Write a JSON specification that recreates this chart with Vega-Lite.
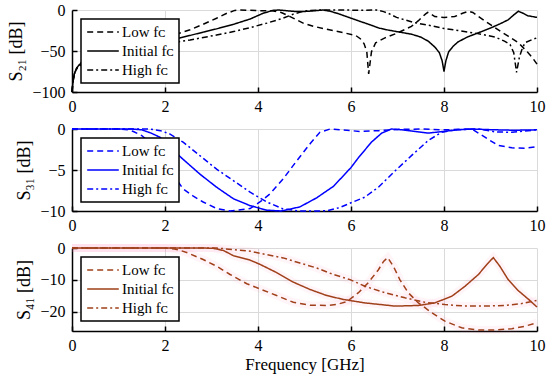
{
"$schema": "https://vega.github.io/schema/vega-lite/v6.json",
"padding": {"left": 7, "top": 2, "right": 5, "bottom": 5},
"bounds": "flush",
"datasets": {
"s21": [
{"s":"Initial","f":0,"db":-100},{"s":"Initial","f":0.02,"db":-88},{"s":"Initial","f":0.05,"db":-78},{"s":"Initial","f":0.1,"db":-71},{"s":"Initial","f":0.15,"db":-67},{"s":"Initial","f":0.2,"db":-65},{"s":"Initial","f":0.3,"db":-63},{"s":"Initial","f":0.5,"db":-59},{"s":"Initial","f":0.8,"db":-54},{"s":"Initial","f":1.0,"db":-50},{"s":"Initial","f":1.3,"db":-46},{"s":"Initial","f":1.6,"db":-42},{"s":"Initial","f":2.0,"db":-38},{"s":"Initial","f":2.25,"db":-35},{"s":"Initial","f":2.54,"db":-31},{"s":"Initial","f":2.82,"db":-27},{"s":"Initial","f":3.11,"db":-23},{"s":"Initial","f":3.47,"db":-17.5},{"s":"Initial","f":3.83,"db":-11},{"s":"Initial","f":4.11,"db":-4},{"s":"Initial","f":4.32,"db":-0.5},{"s":"Initial","f":4.45,"db":0},{"s":"Initial","f":4.6,"db":-0.8},{"s":"Initial","f":4.8,"db":-1.8},{"s":"Initial","f":5.0,"db":-1.8},{"s":"Initial","f":5.2,"db":-1},{"s":"Initial","f":5.4,"db":0},{"s":"Initial","f":5.55,"db":-1.5},{"s":"Initial","f":5.7,"db":-4},{"s":"Initial","f":5.85,"db":-7},{"s":"Initial","f":6.0,"db":-10},{"s":"Initial","f":6.2,"db":-14},{"s":"Initial","f":6.41,"db":-18},{"s":"Initial","f":6.6,"db":-22},{"s":"Initial","f":6.8,"db":-24.5},{"s":"Initial","f":7.0,"db":-26.5},{"s":"Initial","f":7.3,"db":-29.5},{"s":"Initial","f":7.5,"db":-33},{"s":"Initial","f":7.66,"db":-38},{"s":"Initial","f":7.8,"db":-45},{"s":"Initial","f":7.9,"db":-52},{"s":"Initial","f":7.96,"db":-62},{"s":"Initial","f":8.0,"db":-75},{"s":"Initial","f":8.04,"db":-62},{"s":"Initial","f":8.1,"db":-51},{"s":"Initial","f":8.2,"db":-44},{"s":"Initial","f":8.3,"db":-39},{"s":"Initial","f":8.5,"db":-33},{"s":"Initial","f":8.73,"db":-28},{"s":"Initial","f":9.0,"db":-22},{"s":"Initial","f":9.2,"db":-17},{"s":"Initial","f":9.38,"db":-12},{"s":"Initial","f":9.5,"db":-6},{"s":"Initial","f":9.6,"db":-1.5},{"s":"Initial","f":9.7,"db":-4},{"s":"Initial","f":9.8,"db":-7},{"s":"Initial","f":10,"db":-9},
{"s":"Low","f":0,"db":-100},{"s":"Low","f":0.02,"db":-88},{"s":"Low","f":0.05,"db":-78},{"s":"Low","f":0.1,"db":-71},{"s":"Low","f":0.2,"db":-64},{"s":"Low","f":0.5,"db":-56},{"s":"Low","f":1.0,"db":-46},{"s":"Low","f":1.5,"db":-38},{"s":"Low","f":2.0,"db":-32},{"s":"Low","f":2.24,"db":-29.5},{"s":"Low","f":2.54,"db":-24},{"s":"Low","f":2.82,"db":-17.5},{"s":"Low","f":3.11,"db":-10},{"s":"Low","f":3.33,"db":-4},{"s":"Low","f":3.5,"db":-0.5},{"s":"Low","f":3.6,"db":0},{"s":"Low","f":3.8,"db":-0.3},{"s":"Low","f":4.0,"db":-0.8},{"s":"Low","f":4.3,"db":-1},{"s":"Low","f":4.5,"db":-3},{"s":"Low","f":4.69,"db":-8},{"s":"Low","f":4.97,"db":-16},{"s":"Low","f":5.2,"db":-20},{"s":"Low","f":5.4,"db":-22.5},{"s":"Low","f":5.65,"db":-25.5},{"s":"Low","f":5.9,"db":-28.5},{"s":"Low","f":6.1,"db":-31},{"s":"Low","f":6.2,"db":-35},{"s":"Low","f":6.28,"db":-41},{"s":"Low","f":6.34,"db":-51},{"s":"Low","f":6.38,"db":-78},{"s":"Low","f":6.44,"db":-51},{"s":"Low","f":6.53,"db":-40},{"s":"Low","f":6.73,"db":-34},{"s":"Low","f":7.0,"db":-28},{"s":"Low","f":7.15,"db":-24},{"s":"Low","f":7.3,"db":-20},{"s":"Low","f":7.45,"db":-13},{"s":"Low","f":7.52,"db":-9},{"s":"Low","f":7.6,"db":-5},{"s":"Low","f":7.65,"db":-3},{"s":"Low","f":7.72,"db":-5},{"s":"Low","f":7.8,"db":-8},{"s":"Low","f":8.0,"db":-9},{"s":"Low","f":8.23,"db":-8},{"s":"Low","f":8.4,"db":-4},{"s":"Low","f":8.53,"db":-1.5},{"s":"Low","f":8.62,"db":-3},{"s":"Low","f":8.74,"db":-8},{"s":"Low","f":8.95,"db":-16},{"s":"Low","f":9.16,"db":-24},{"s":"Low","f":9.38,"db":-32},{"s":"Low","f":9.6,"db":-40},{"s":"Low","f":9.79,"db":-51},{"s":"Low","f":9.9,"db":-58},{"s":"Low","f":10,"db":-66},
{"s":"High","f":0,"db":-100},{"s":"High","f":0.02,"db":-88},{"s":"High","f":0.05,"db":-78},{"s":"High","f":0.1,"db":-72},{"s":"High","f":0.2,"db":-66},{"s":"High","f":0.5,"db":-60},{"s":"High","f":1.0,"db":-53},{"s":"High","f":1.5,"db":-47},{"s":"High","f":2.0,"db":-42},{"s":"High","f":2.24,"db":-39},{"s":"High","f":2.54,"db":-36.5},{"s":"High","f":3.11,"db":-30.5},{"s":"High","f":3.5,"db":-26},{"s":"High","f":3.83,"db":-21.5},{"s":"High","f":4.19,"db":-16},{"s":"High","f":4.54,"db":-10},{"s":"High","f":4.76,"db":-5},{"s":"High","f":4.95,"db":-2},{"s":"High","f":5.1,"db":-0.5},{"s":"High","f":5.4,"db":0},{"s":"High","f":5.8,"db":0},{"s":"High","f":6.2,"db":-0.3},{"s":"High","f":6.55,"db":0},{"s":"High","f":6.7,"db":-2},{"s":"High","f":6.8,"db":-4},{"s":"High","f":6.98,"db":-9},{"s":"High","f":7.33,"db":-15},{"s":"High","f":7.7,"db":-19},{"s":"High","f":8.0,"db":-22.5},{"s":"High","f":8.3,"db":-25},{"s":"High","f":8.7,"db":-28.5},{"s":"High","f":9.1,"db":-33},{"s":"High","f":9.3,"db":-38},{"s":"High","f":9.42,"db":-42},{"s":"High","f":9.5,"db":-52},{"s":"High","f":9.56,"db":-76},{"s":"High","f":9.62,"db":-58},{"s":"High","f":9.67,"db":-49},{"s":"High","f":9.74,"db":-40},{"s":"High","f":9.9,"db":-36},{"s":"High","f":10,"db":-34}
],
"s31": [
{"s":"Initial","f":0,"db":0},{"s":"Initial","f":0.5,"db":0},{"s":"Initial","f":1.0,"db":0},{"s":"Initial","f":1.3,"db":0},{"s":"Initial","f":1.5,"db":-0.1},{"s":"Initial","f":1.7,"db":-0.5},{"s":"Initial","f":1.89,"db":-1.0},{"s":"Initial","f":2.1,"db":-2.2},{"s":"Initial","f":2.39,"db":-3.7},{"s":"Initial","f":2.75,"db":-5.5},{"s":"Initial","f":3.11,"db":-7.1},{"s":"Initial","f":3.47,"db":-8.5},{"s":"Initial","f":3.83,"db":-9.35},{"s":"Initial","f":4.19,"db":-9.9},{"s":"Initial","f":4.5,"db":-10},{"s":"Initial","f":4.9,"db":-9.5},{"s":"Initial","f":5.26,"db":-8.4},{"s":"Initial","f":5.62,"db":-7.0},{"s":"Initial","f":5.87,"db":-5.5},{"s":"Initial","f":6.0,"db":-4.7},{"s":"Initial","f":6.16,"db":-3.5},{"s":"Initial","f":6.44,"db":-1.6},{"s":"Initial","f":6.66,"db":-0.5},{"s":"Initial","f":6.87,"db":0},{"s":"Initial","f":7.1,"db":-0.1},{"s":"Initial","f":7.3,"db":-0.25},{"s":"Initial","f":7.66,"db":-0.5},{"s":"Initial","f":7.98,"db":-0.3},{"s":"Initial","f":8.3,"db":-0.1},{"s":"Initial","f":8.6,"db":0},{"s":"Initial","f":9.1,"db":-0.1},{"s":"Initial","f":9.5,"db":-0.15},{"s":"Initial","f":10,"db":-0.1},
{"s":"Low","f":0,"db":0},{"s":"Low","f":1.0,"db":0},{"s":"Low","f":1.2,"db":-0.1},{"s":"Low","f":1.32,"db":-0.3},{"s":"Low","f":1.5,"db":-0.8},{"s":"Low","f":1.7,"db":-1.8},{"s":"Low","f":1.9,"db":-3.2},{"s":"Low","f":2.1,"db":-4.8},{"s":"Low","f":2.24,"db":-6.1},{"s":"Low","f":2.39,"db":-7.3},{"s":"Low","f":2.61,"db":-8.2},{"s":"Low","f":2.82,"db":-8.9},{"s":"Low","f":3.11,"db":-9.7},{"s":"Low","f":3.4,"db":-10},{"s":"Low","f":3.83,"db":-9.7},{"s":"Low","f":4.04,"db":-8.9},{"s":"Low","f":4.26,"db":-7.9},{"s":"Low","f":4.54,"db":-6.1},{"s":"Low","f":4.83,"db":-3.9},{"s":"Low","f":5.12,"db":-1.8},{"s":"Low","f":5.33,"db":-0.4},{"s":"Low","f":5.55,"db":0},{"s":"Low","f":5.8,"db":-0.1},{"s":"Low","f":6.2,"db":-0.3},{"s":"Low","f":6.6,"db":-0.2},{"s":"Low","f":7.0,"db":-0.05},{"s":"Low","f":7.5,"db":0},{"s":"Low","f":8.0,"db":-0.1},{"s":"Low","f":8.6,"db":0},{"s":"Low","f":8.88,"db":-1.0},{"s":"Low","f":9.16,"db":-2.0},{"s":"Low","f":9.46,"db":-2.3},{"s":"Low","f":9.74,"db":-2.35},{"s":"Low","f":10,"db":-2.15},
{"s":"High","f":0,"db":0},{"s":"High","f":1.5,"db":0},{"s":"High","f":1.68,"db":0},{"s":"High","f":1.9,"db":-0.2},{"s":"High","f":2.1,"db":-0.6},{"s":"High","f":2.39,"db":-1.6},{"s":"High","f":2.75,"db":-3.25},{"s":"High","f":3.11,"db":-4.9},{"s":"High","f":3.47,"db":-6.3},{"s":"High","f":3.83,"db":-7.7},{"s":"High","f":4.19,"db":-8.9},{"s":"High","f":4.54,"db":-9.75},{"s":"High","f":4.9,"db":-10},{"s":"High","f":5.3,"db":-10},{"s":"High","f":5.5,"db":-9.95},{"s":"High","f":5.75,"db":-9.6},{"s":"High","f":6.0,"db":-9.0},{"s":"High","f":6.3,"db":-8.3},{"s":"High","f":6.59,"db":-7.1},{"s":"High","f":6.95,"db":-5.1},{"s":"High","f":7.3,"db":-3.25},{"s":"High","f":7.66,"db":-1.4},{"s":"High","f":7.95,"db":-0.4},{"s":"High","f":8.24,"db":-0.1},{"s":"High","f":8.74,"db":0},{"s":"High","f":9.1,"db":-0.35},{"s":"High","f":9.46,"db":-0.4},{"s":"High","f":10,"db":-0.1}
],
"s41": [
{"s":"Initial","f":0,"db":0},{"s":"Initial","f":1,"db":0},{"s":"Initial","f":2,"db":0},{"s":"Initial","f":2.8,"db":0},{"s":"Initial","f":3.04,"db":-0.1},{"s":"Initial","f":3.26,"db":-0.8},{"s":"Initial","f":3.47,"db":-2.4},{"s":"Initial","f":3.83,"db":-3.8},{"s":"Initial","f":4.04,"db":-5.1},{"s":"Initial","f":4.4,"db":-7.7},{"s":"Initial","f":4.76,"db":-10.7},{"s":"Initial","f":5.12,"db":-13.0},{"s":"Initial","f":5.48,"db":-14.9},{"s":"Initial","f":5.83,"db":-16.1},{"s":"Initial","f":6.3,"db":-17.2},{"s":"Initial","f":6.95,"db":-18.2},{"s":"Initial","f":7.45,"db":-18.0},{"s":"Initial","f":7.8,"db":-17.2},{"s":"Initial","f":8.17,"db":-15.1},{"s":"Initial","f":8.45,"db":-12},{"s":"Initial","f":8.74,"db":-8.3},{"s":"Initial","f":8.92,"db":-5.2},{"s":"Initial","f":9.06,"db":-3.0},{"s":"Initial","f":9.2,"db":-5.7},{"s":"Initial","f":9.38,"db":-9.9},{"s":"Initial","f":9.6,"db":-13.4},{"s":"Initial","f":9.82,"db":-16.1},{"s":"Initial","f":10,"db":-18.5},
{"s":"Low","f":0,"db":0},{"s":"Low","f":1,"db":0},{"s":"Low","f":2.0,"db":0},{"s":"Low","f":2.2,"db":-0.3},{"s":"Low","f":2.32,"db":-0.7},{"s":"Low","f":2.5,"db":-1.6},{"s":"Low","f":2.82,"db":-3.6},{"s":"Low","f":3.11,"db":-5.7},{"s":"Low","f":3.4,"db":-8.3},{"s":"Low","f":3.76,"db":-11.2},{"s":"Low","f":4.04,"db":-12.8},{"s":"Low","f":4.4,"db":-14.9},{"s":"Low","f":4.76,"db":-17.0},{"s":"Low","f":5.12,"db":-17.9},{"s":"Low","f":5.48,"db":-18.0},{"s":"Low","f":5.69,"db":-17.7},{"s":"Low","f":5.91,"db":-16.8},{"s":"Low","f":6.16,"db":-14},{"s":"Low","f":6.37,"db":-10.9},{"s":"Low","f":6.59,"db":-6.8},{"s":"Low","f":6.7,"db":-4.2},{"s":"Low","f":6.79,"db":-3.0},{"s":"Low","f":6.91,"db":-5.7},{"s":"Low","f":7.05,"db":-9.9},{"s":"Low","f":7.23,"db":-14},{"s":"Low","f":7.45,"db":-17.2},{"s":"Low","f":7.74,"db":-20.3},{"s":"Low","f":8.02,"db":-22.9},{"s":"Low","f":8.38,"db":-25},{"s":"Low","f":8.74,"db":-25.7},{"s":"Low","f":9.1,"db":-25.7},{"s":"Low","f":9.46,"db":-25.3},{"s":"Low","f":9.74,"db":-24.5},{"s":"Low","f":10,"db":-23.4},
{"s":"High","f":0,"db":0},{"s":"High","f":2,"db":0},{"s":"High","f":3.11,"db":0},{"s":"High","f":3.47,"db":-0.5},{"s":"High","f":3.83,"db":-1.0},{"s":"High","f":4.19,"db":-2.1},{"s":"High","f":4.54,"db":-3.1},{"s":"High","f":4.9,"db":-4.7},{"s":"High","f":5.26,"db":-6.25},{"s":"High","f":5.62,"db":-8.3},{"s":"High","f":5.98,"db":-9.9},{"s":"High","f":6.3,"db":-12},{"s":"High","f":6.73,"db":-14},{"s":"High","f":7.16,"db":-15.6},{"s":"High","f":7.59,"db":-17},{"s":"High","f":8.02,"db":-17.7},{"s":"High","f":8.45,"db":-18.2},{"s":"High","f":8.88,"db":-18.2},{"s":"High","f":9.31,"db":-18},{"s":"High","f":9.67,"db":-17.4},{"s":"High","f":10,"db":-16.4}
]
},
"config": {
"font": "Times New Roman",
"view": {"stroke": null},
"axis": {"labelFont": "Times New Roman", "titleFont": "Times New Roman", "labelFontSize": 16, "titleFontSize": 18, "titleFontWeight": "normal", "labelColor": "black", "titleColor": "black", "domainColor": "black", "domainWidth": 1.5, "tickColor": "black", "tickWidth": 1.5, "tickSize": -5, "gridColor": "#dadada", "gridWidth": 1, "labelFlush": false, "labelOverlap": false},
"axisY": {"labelPadding": 12, "titlePadding": 6},
"axisX": {"labelPadding": 11, "titlePadding": 3},
"legend": {"orient": "top-left", "offset": 9, "fillColor": "white", "strokeColor": "black", "strokeWidth": 1.5, "padding": 5, "labelFont": "Times New Roman", "labelFontSize": 15, "labelColor": "black", "symbolType": "stroke", "symbolSize": 1000, "symbolStrokeWidth": 1.5, "rowPadding": 3, "clipHeight": 16, "labelOffset": 2, "title": null},
"concat": {"spacing": 37}
},
"vconcat": [
{
"width": 465, "height": 82,
"data": {"name": "s21"},
"mark": {"type": "line", "color": "black", "strokeWidth": 1.5},
"encoding": {
"x": {"field": "f", "type": "quantitative", "scale": {"domain": [0, 10], "nice": false}, "axis": {"values": [0, 2, 4, 6, 8, 10], "title": null}},
"y": {"field": "db", "type": "quantitative", "scale": {"domain": [-100, 0], "nice": false}, "axis": {"values": [-100, -50, 0], "title": "S₂₁ [dB]"}},
"strokeDash": {"field": "s", "type": "nominal", "scale": {"domain": ["Low", "Initial", "High"], "range": [[6, 4], [1, 0], [6, 3, 2, 3]]}, "legend": {"labelExpr": "datum.label + ' fᴄ'", "symbolStrokeColor": "black"}}
}
},
{
"width": 465, "height": 82,
"data": {"name": "s31"},
"mark": {"type": "line", "color": "#0000ff", "strokeWidth": 1.5},
"encoding": {
"x": {"field": "f", "type": "quantitative", "scale": {"domain": [0, 10], "nice": false}, "axis": {"values": [0, 2, 4, 6, 8, 10], "title": null}},
"y": {"field": "db", "type": "quantitative", "scale": {"domain": [-10, 0], "nice": false}, "axis": {"values": [-10, -5, 0], "title": "S₃₁ [dB]"}},
"strokeDash": {"field": "s", "type": "nominal", "scale": {"domain": ["Low", "Initial", "High"], "range": [[6, 4], [1, 0], [6, 3, 2, 3]]}, "legend": {"labelExpr": "datum.label + ' fᴄ'", "symbolStrokeColor": "#0000ff"}}
}
},
{
"width": 465, "height": 83,
"data": {"name": "s41"},
"layer": [
{
"mark": {"type": "line", "color": "#ff6fb0", "strokeWidth": 8, "opacity": 0.07},
"encoding": {
"x": {"field": "f", "type": "quantitative", "scale": {"domain": [0, 10], "nice": false}},
"y": {"field": "db", "type": "quantitative", "scale": {"domain": [-26, 0], "nice": false}},
"detail": {"field": "s", "type": "nominal"}
}
},
{
"mark": {"type": "line", "color": "#a0401a", "strokeWidth": 1.5},
"encoding": {
"x": {"field": "f", "type": "quantitative", "scale": {"domain": [0, 10], "nice": false}, "axis": {"values": [0, 2, 4, 6, 8, 10], "title": "Frequency [GHz]", "titleFontSize": 17}},
"y": {"field": "db", "type": "quantitative", "scale": {"domain": [-26, 0], "nice": false}, "axis": {"values": [-20, -10, 0], "title": "S₄₁ [dB]"}},
"strokeDash": {"field": "s", "type": "nominal", "scale": {"domain": ["Low", "Initial", "High"], "range": [[6, 4], [1, 0], [6, 3, 2, 3]]}, "legend": {"labelExpr": "datum.label + ' fᴄ'", "symbolStrokeColor": "#a0401a"}}
}
}
]
}
],
"resolve": {"scale": {"strokeDash": "independent", "x": "independent", "y": "independent"}, "legend": {"strokeDash": "independent"}}
}
